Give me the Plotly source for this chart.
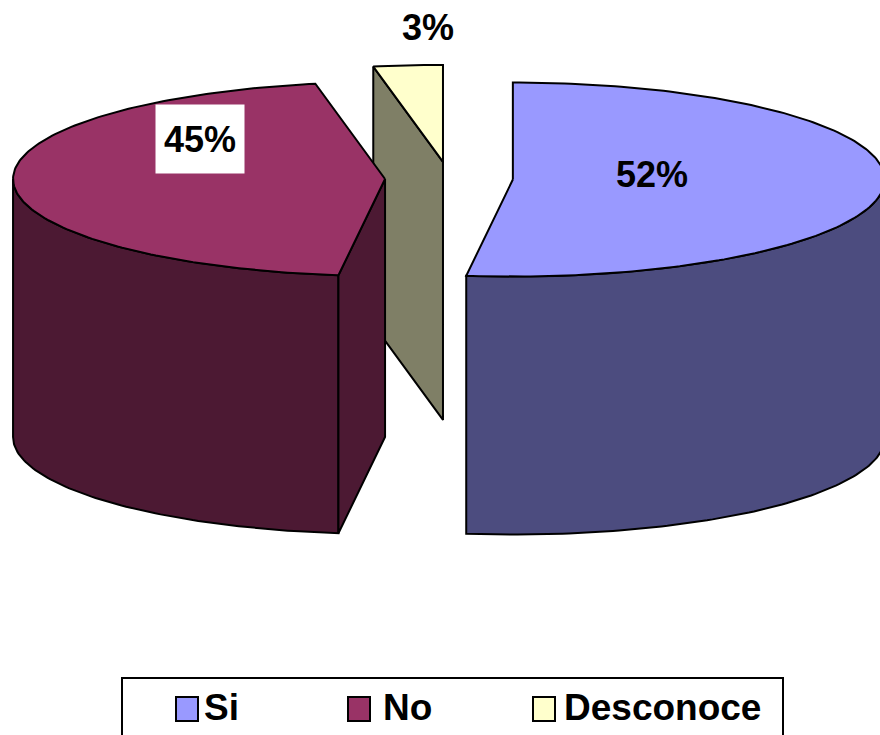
import numpy as np
import plotly.graph_objects as go

# ---- data -------------------------------------------------------------
categories = ["Si", "No", "Desconoce"]
values = [52, 45, 3]
label_texts = ["52%", "45%", "3%"]

# ---- style ------------------------------------------------------------
top_colors = ["#9999FF", "#993366", "#FFFFCC"]
side_colors = ["#4C4C7F", "#4C1933", "#7F7F66"]
FONT = "Liberation Sans, Arial, sans-serif"

W, H = 880, 735
CX, CY = 449.0, 178.5      # centre of the pie's top face
RX, RY = 372.0, 97.0       # ellipse radii of the top face
DEPTH = 258.0              # height of the cylinder
EXPLODE = 0.172            # explosion distance (fraction of radius)


def rim(cx, cy, theta):
    """Point on the top ellipse; theta in degrees, clockwise from 12 o'clock."""
    t = np.radians(theta)
    return cx + RX * np.sin(t), cy - RY * np.cos(t)


def arc(cx, cy, a0, a1, n=90):
    th = np.linspace(a0, a1, max(2, int(abs(a1 - a0) / 1.0) + 2))
    x, y = rim(cx, cy, th)
    return list(x), list(y)


fig = go.Figure()


def face(xs, ys, fill):
    xs = list(xs) + [xs[0]]
    ys = list(ys) + [ys[0]]
    fig.add_trace(go.Scatter(
        x=xs, y=ys, mode="lines", fill="toself", fillcolor=fill,
        line=dict(color="black", width=2), hoverinfo="skip",
        showlegend=False))


total = float(sum(values))
slices = []
start = 0.0
for i, v in enumerate(values):
    sweep = 360.0 * v / total
    end = start + sweep
    mid = np.radians((start + end) / 2)
    cx = CX + EXPLODE * RX * np.sin(mid)
    cy = CY - EXPLODE * RY * np.cos(mid)
    slices.append((i, start, end, cx, cy))
    start = end

# back slices first
for i, a0, a1, cx, cy in sorted(slices, key=lambda s: s[4]):
    # outer wall: only the front half of the cylinder (90..270 deg) is visible
    w0, w1 = max(a0, 90.0), min(a1, 270.0)
    if w1 > w0:
        xt, yt = arc(cx, cy, w0, w1)
        xb = xt[::-1]
        yb = [y + DEPTH for y in yt[::-1]]
        face(xt + xb, yt + yb, side_colors[i])
    # radial cut face at the start angle
    if np.sin(np.radians(a0)) < -1e-6:
        rx_, ry_ = rim(cx, cy, a0)
        face([cx, rx_, rx_, cx], [cy, ry_, ry_ + DEPTH, cy + DEPTH], side_colors[i])
    # radial cut face at the end angle
    if np.sin(np.radians(a1)) > 1e-6:
        rx_, ry_ = rim(cx, cy, a1)
        face([cx, rx_, rx_, cx], [cy, ry_, ry_ + DEPTH, cy + DEPTH], side_colors[i])
    # top face
    xt, yt = arc(cx, cy, a0, a1)
    face([cx] + xt, [cy] + yt, top_colors[i])

# ---- value labels -----------------------------------------------------
label_pos = [(652, 174), (200, 139), (428, 27)]
for i, txt in enumerate(label_texts):
    x, y = label_pos[i]
    extra = {}
    if categories[i] == "No":
        extra = dict(bgcolor="white", width=86, height=66)
    fig.add_annotation(
        x=x, y=y, xref="x", yref="y", text=txt, showarrow=False,
        font=dict(family=FONT, size=36, color="black", weight="bold"),
        xanchor="center", yanchor="middle", **extra)

# ---- legend -----------------------------------------------------------
fig.add_shape(type="rect", xref="x", yref="y", x0=122, x1=783, y0=678, y1=800,
              line=dict(color="black", width=2), fillcolor="white", layer="above")
swatch_x = [176, 348, 533]
text_x = [202, 381, 562]
for i, name in enumerate(categories):
    fig.add_shape(type="rect", xref="x", yref="y",
                  x0=swatch_x[i], x1=swatch_x[i] + 22, y0=697, y1=721,
                  line=dict(color="black", width=2), fillcolor=top_colors[i],
                  layer="above")
    fig.add_annotation(
        x=text_x[i], y=707, xref="x", yref="y", text=name, showarrow=False,
        font=dict(family=FONT, size=37, color="black", weight="bold"),
        xanchor="left", yanchor="middle")

fig.update_layout(
    width=W, height=H,
    margin=dict(l=0, r=0, t=0, b=0),
    paper_bgcolor="white", plot_bgcolor="white",
    xaxis=dict(range=[0, W], visible=False, fixedrange=True),
    yaxis=dict(range=[H, 0], visible=False, fixedrange=True),
    showlegend=False,
)

fig.write_html("out.html")
